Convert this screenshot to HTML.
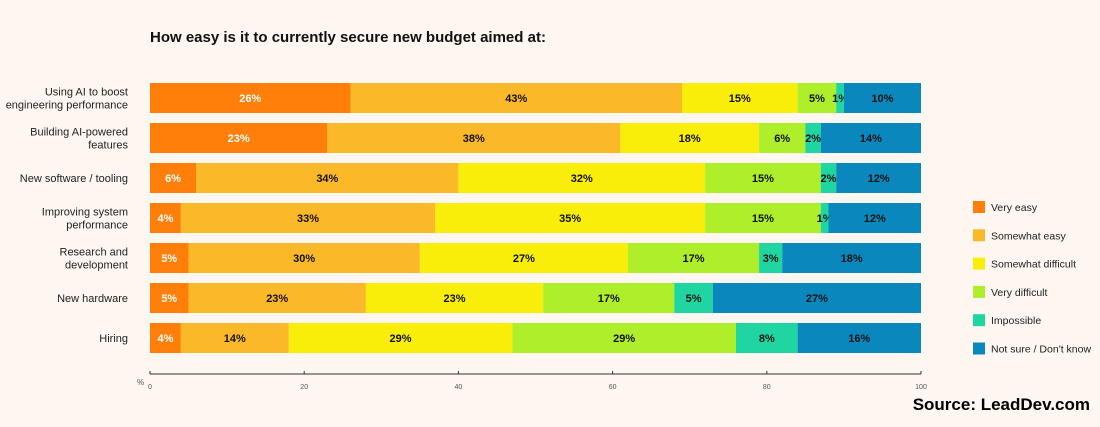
<!DOCTYPE html>
<html><head><meta charset="utf-8"><style>
body{margin:0;background:#fdf6f1;width:1100px;height:422px;overflow:hidden;font-family:"Liberation Sans",sans-serif}
</style></head><body>
<svg id="c" width="1100" height="422">
<text x="150" y="42" font-size="15" font-weight="bold" fill="#111">How easy is it to currently secure new budget aimed at:</text>
<text x="1090" y="410" text-anchor="end" font-size="17" font-weight="bold" fill="#000">Source: LeadDev.com</text>
</svg>
<script>
const categories=[["Using AI to boost","engineering performance"],["Building AI-powered","features"],["New software / tooling"],["Improving system","performance"],["Research and","development"],["New hardware"],["Hiring"]];
const seriesNames=["Very easy","Somewhat easy","Somewhat difficult","Very difficult","Impossible","Not sure / Don't know"];
const veryEasy=[26,23,6,4,5,5,4];
const somewhatEasy=[43,38,34,33,30,23,14];
const somewhatDifficult=[15,18,32,35,27,23,29];
const veryDifficult=[5,6,15,15,17,17,29];
const impossible=[1,2,2,1,3,5,8];
const notSure=[10,14,12,12,18,27,16];
const ticks=[0,20,40,60,80,100];
const series=[veryEasy,somewhatEasy,somewhatDifficult,veryDifficult,impossible,notSure];
const colors=["#ff7f0a","#fbb829","#f9ee0a","#aeee2a","#1fd6a2","#0a88be"];
const svg=document.getElementById('c');const NS="http://www.w3.org/2000/svg";
const x0=150,x1=921;const xs=v=>x0+(x1-x0)*Math.min(v,100)/100;
const yTop=83,step=40,bh=30;
function mk(t,a){const e=document.createElementNS(NS,t);for(const k in a)e.setAttribute(k,a[k]);svg.appendChild(e);return e;}
categories.forEach((cat,i)=>{
 const y=yTop+i*step;
 const lab=mk('text',{x:128,'text-anchor':'end','font-size':11,fill:'#222'});
 
 
 cat.forEach((l,j)=>{const ts=document.createElementNS(NS,'tspan');ts.setAttribute('x',128);ts.setAttribute('y',y+bh/2+4+(j-(cat.length-1)/2)*13);ts.textContent=l;lab.appendChild(ts);});
 let acc=0;
 series.forEach((arr,k)=>{
  const v=arr[i];const a=xs(acc),b=xs(acc+v);acc+=v;
  const r=mk('rect',{x:a,y:y,width:Math.max(0,b-a),height:bh,fill:colors[k]});
  
  
  const t=mk('text',{x:(a+b)/2,y:y+bh/2+4,'text-anchor':'middle','font-size':11,'font-weight':'bold',fill:k==0?'#fff':'#111'});
  t.textContent=v+'%';
  
  
 });
});
const ax=mk('line',{x1:x0,x2:x1,y1:374,y2:374,stroke:'#333','stroke-width':1});


ticks.forEach(t=>{
 const tk=mk('line',{x1:xs(t),x2:xs(t),y1:371,y2:374,stroke:'#333'});
 
 
 const tl=mk('text',{x:xs(t),y:389,'text-anchor':'middle','font-size':7,fill:'#555'});
 tl.textContent=t;
 
 
});
const pc=mk('text',{x:137,y:385,'font-size':8,fill:'#555'});pc.textContent='%';


seriesNames.forEach((n,k)=>{
 const y=201+k*28.3;
 const sw=mk('rect',{x:973,y:y,width:12,height:12,fill:colors[k]});
 
 
 const lt=mk('text',{x:991,y:y+10,'font-size':10.5,fill:'#222'});lt.textContent=n;
 
 
});
</script>
</body></html>
